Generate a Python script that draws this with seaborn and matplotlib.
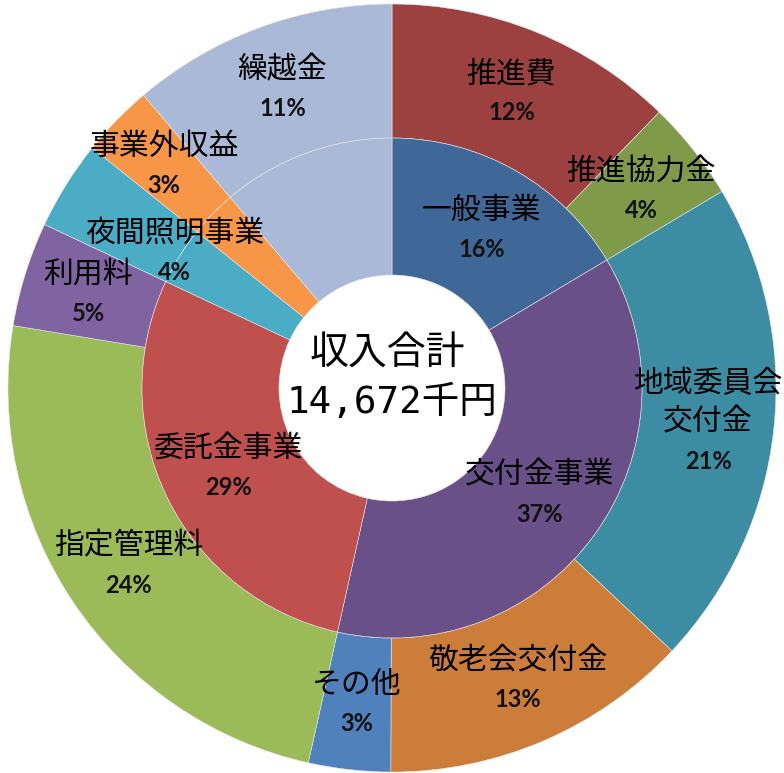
import matplotlib
matplotlib.use("Agg")
import matplotlib.pyplot as plt
import seaborn as sns
import numpy as np

# ---- data ----
outer_labels = ["推進費", "推進協力金", "地域委員会\n交付金", "敬老会交付金", "その他",
                "指定管理料", "利用料", "夜間照明事業", "事業外収益", "繰越金"]
# wedge shares (percent)
outer_values = [12.25, 4.2, 20.55, 13.05, 3.45, 24.1, 4.4, 3.75, 3.05, 11.2]
# percentages as printed on the chart
outer_pct = [12, 4, 21, 13, 3, 24, 5, 4, 3, 11]
outer_colors = ["#9C4040", "#7F9A48", "#3C8DA3", "#CD7D3A", "#4F81BD",
                "#9BBB59", "#8064A2", "#4BACC6", "#F79646", "#AAB9D7"]

inner_labels = ["一般事業", "交付金事業", "委託金事業", "夜間照明事業", "事業外収益", "繰越金"]
inner_values = [16.45, 37.05, 28.5, 3.75, 3.05, 11.2]
inner_pct = [16, 37, 29, 4, 3, 11]
inner_colors = ["#3F6899", "#6A5088", "#C0504D", "#4BACC6", "#F79646", "#AAB9D7"]

# which labels are written on which ring
outer_show = ["推進費", "推進協力金", "地域委員会\n交付金", "敬老会交付金", "その他",
              "指定管理料", "利用料", "事業外収益", "繰越金"]
inner_show = ["一般事業", "交付金事業", "委託金事業"]
boundary_show = ["夜間照明事業"]

center_title = "収入合計"
center_total = "14,672千円"

# ---- style ----
sns.set_theme(style="white")
plt.rcParams["font.family"] = ["Noto Sans CJK JP", "DejaVu Sans"]

W, H = 784, 773
cx, cy, R = 392, 388, 384
fig = plt.figure(figsize=(W / 100, H / 100), dpi=100)
ax = fig.add_axes([0, 0, 1, 1])

r_out = 1.0
r_mid = 250 / R
r_hole = 113 / R

ow, _ = ax.pie(outer_values, radius=r_out, startangle=90, counterclock=False,
               colors=outer_colors,
               wedgeprops=dict(width=r_out - r_mid, edgecolor="#e6e6e6", linewidth=0.4))
iw, _ = ax.pie(inner_values, radius=r_mid, startangle=90, counterclock=False,
               colors=inner_colors,
               wedgeprops=dict(width=r_mid - r_hole, edgecolor="#e6e6e6", linewidth=0.4))
ax.set_xlim(-cx / R, (W - cx) / R)
ax.set_ylim(-(H - cy) / R, cy / R)
ax.set_aspect("equal")
ax.axis("off")

line = 39 / R


def put_label(wedge, name, value, radius):
    mid = np.deg2rad((wedge.theta1 + wedge.theta2) / 2)
    x, y = radius * np.cos(mid), radius * np.sin(mid)
    lines = name.split("\n")
    n = len(lines) + 1
    for i, ln in enumerate(lines):
        ax.text(x, y - (i - (n - 1) / 2) * line, ln, ha="center", va="center",
                fontsize=21.5, color="black")
    ax.text(x, y - (len(lines) - (n - 1) / 2) * line, f"{value}%", ha="center",
            va="center", fontsize=17, fontweight="bold", color="#111111",
            family=["Lato", "DejaVu Sans"])


for w, name, p in zip(ow, outer_labels, outer_pct):
    if name in outer_show:
        put_label(w, name, p, 318 / R)
    elif name in boundary_show:
        put_label(w, name, p, 256 / R)

for w, name, p in zip(iw, inner_labels, inner_pct):
    if name in inner_show:
        put_label(w, name, p, 182 / R)

ax.text(-5 / R, 35 / R, center_title, ha="center", va="center", fontsize=28,
        color="black")
ax.text(0, -15 / R, center_total, ha="center", va="center", fontsize=27,
        color="black", family=["DejaVu Sans Mono", "Noto Sans CJK JP"])

fig.savefig("out.png", dpi=100)
